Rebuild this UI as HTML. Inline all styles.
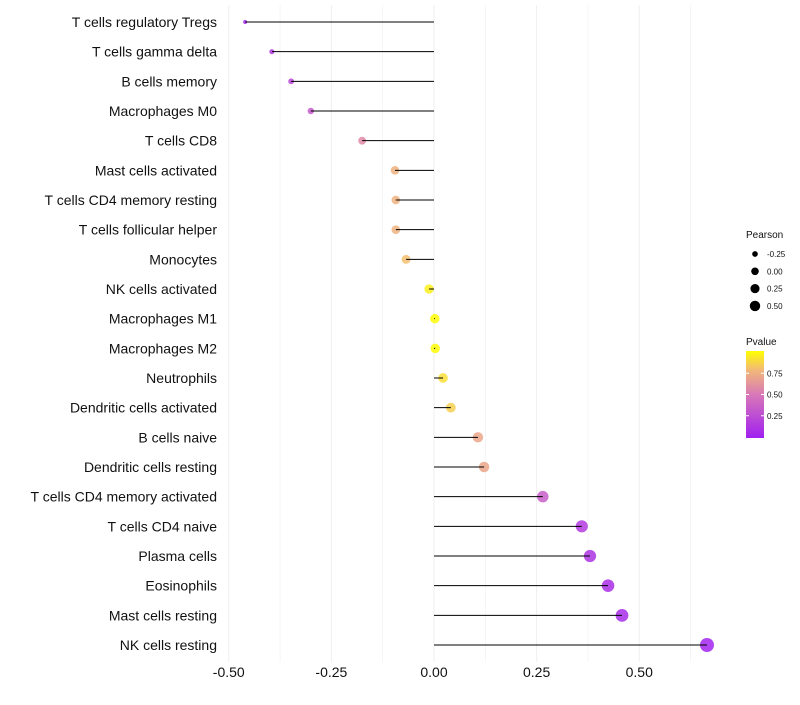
<!DOCTYPE html>
<html><head><meta charset="utf-8"><style>
body{margin:0;background:#fff;font-family:"Liberation Sans",sans-serif;}
</style></head><body>
<svg id="chart" width="800" height="700" xmlns="http://www.w3.org/2000/svg">
<defs><linearGradient id="pg" x1="0" y1="1" x2="0" y2="0">
<stop offset="0" stop-color="#A020F0"/><stop offset="0.5" stop-color="#D878B8"/><stop offset="0.78" stop-color="#F2B878"/><stop offset="1" stop-color="#FFFF00"/></linearGradient></defs>
<g id="grid"></g><g id="dots"></g><g id="marks"></g><g id="labels"></g><g id="legend"></g>
</svg>
<script>
const categories=["T cells regulatory  Tregs","T cells gamma delta","B cells memory","Macrophages M0","T cells CD8","Mast cells activated","T cells CD4 memory resting","T cells follicular helper","Monocytes","NK cells activated","Macrophages M1","Macrophages M2","Neutrophils","Dendritic cells activated","B cells naive","Dendritic cells resting","T cells CD4 memory activated","T cells CD4 naive","Plasma cells","Eosinophils","Mast cells resting","NK cells resting"];
const pearson=[-0.46,-0.395,-0.348,-0.30,-0.175,-0.095,-0.093,-0.093,-0.068,-0.012,0.002,0.003,0.022,0.041,0.107,0.122,0.265,0.36,0.38,0.424,0.458,0.665];
const pvalue=[0.03,0.15,0.22,0.32,0.58,0.75,0.75,0.75,0.8,0.95,0.99,0.99,0.9,0.85,0.7,0.7,0.35,0.15,0.12,0.08,0.06,0.02];
const xTicks=[-0.5,-0.25,0,0.25,0.5];
const xTickLabels=["-0.50","-0.25","0.00","0.25","0.50"];
const legendSizes=[-0.25,0,0.25,0.5];
const legendSizeLabels=["-0.25","0.00","0.25","0.50"];
const NS="http://www.w3.org/2000/svg";
const x=v=>434+v*410.5;
const y=i=>22+i*(623/21);
const rad=v=>Math.sqrt(Math.max(3,4+(v+0.46)*40));
function lerp(a,b,t){return a+(b-a)*t;}
const stops=[[0,[160,32,240]],[0.5,[216,120,184]],[0.78,[242,184,120]],[1,[255,255,0]]];
function col(p){for(let k=1;k<stops.length;k++){if(p<=stops[k][0]){const t=(p-stops[k-1][0])/(stops[k][0]-stops[k-1][0]);const a=stops[k-1][1],b=stops[k][1];return `rgb(${Math.round(lerp(a[0],b[0],t))},${Math.round(lerp(a[1],b[1],t))},${Math.round(lerp(a[2],b[2],t))})`;}}return "rgb(255,255,0)";}
function mk(tag,attrs,parent){const e=document.createElementNS(NS,tag);for(const k in attrs)e.setAttribute(k,attrs[k]);parent.appendChild(e);return e;}
const grid=document.getElementById('grid'),dots=document.getElementById('dots'),marks=document.getElementById('marks'),labels=document.getElementById('labels'),legend=document.getElementById('legend');
for(let v=-0.5;v<=0.66;v+=0.125){const g=mk('line',{x1:x(v),x2:x(v),y1:5,y2:662,stroke:'#efefef','stroke-width':(Math.abs(v*4-Math.round(v*4))<0.01)?1:0.6},grid);

}
xTicks.forEach((v,i)=>{const t=mk('text',{x:x(v),y:677,'text-anchor':'middle','font-size':14,fill:'#111'},labels);t.textContent=xTickLabels[i];

});
categories.forEach((c,i)=>{
const t=mk('text',{x:217,y:y(i)+5,'text-anchor':'end','font-size':14,fill:'#111'},labels);t.textContent=c;


const d=mk('circle',{cx:x(pearson[i]),cy:y(i),r:rad(pearson[i]),fill:col(pvalue[i]),'fill-opacity':0.85},dots);


const l=mk('line',{x1:x(0),x2:x(pearson[i]),y1:y(i),y2:y(i),stroke:'#000','stroke-width':1},marks);


});
let tt=mk('text',{x:746,y:238,'font-size':10,fill:'#111'},legend);tt.textContent="Pearson";


legendSizes.forEach((v,i)=>{const cy=254+i*17.3;const c=mk('circle',{cx:755,cy:cy,r:rad(v)*0.8,fill:'#000'},legend);


const t=mk('text',{x:767,y:cy+3,'font-size':8,fill:'#111'},legend);t.textContent=legendSizeLabels[i];

});
tt=mk('text',{x:746,y:345,'font-size':10,fill:'#111'},legend);tt.textContent="Pvalue";


const bar=mk('rect',{x:746,y:351,width:18,height:87,fill:'url(#pg)'},legend);


[[0.75,"0.75"],[0.5,"0.50"],[0.25,"0.25"]].forEach(([v,s])=>{const yy=437-v*85;
mk('line',{x1:746,x2:749,y1:yy,y2:yy,stroke:'#fff'},legend);mk('line',{x1:761,x2:764,y1:yy,y2:yy,stroke:'#fff'},legend);
const t=mk('text',{x:767,y:yy+3,'font-size':8,fill:'#111'},legend);t.textContent=s;

});
</script>
</body></html>
